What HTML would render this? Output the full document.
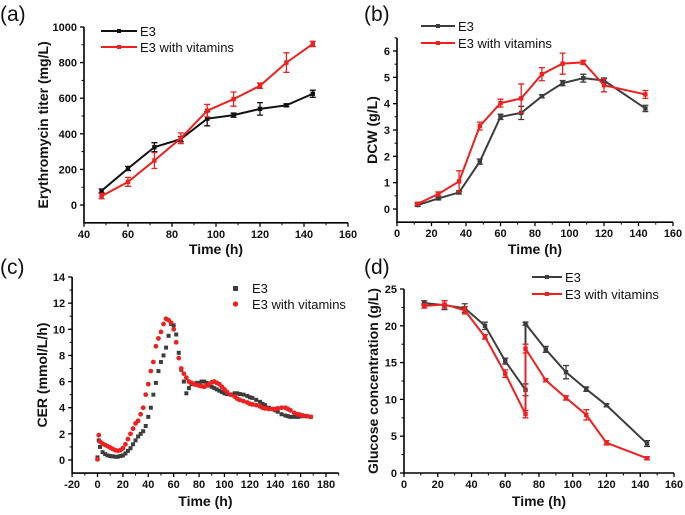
<!DOCTYPE html>
<html><head><meta charset="utf-8"><style>
body{margin:0;background:#fff}
svg{display:block;font-family:"Liberation Sans",Arial,sans-serif}
.tk{font-size:11px;font-weight:bold;fill:#111}
.at{font-size:14px;font-weight:bold;fill:#111}
.pl{font-size:21px;fill:#111}
.lg{font-size:13px;fill:#111}
</style></head><body>
<svg id="fig" width="685" height="515" viewBox="0 0 685 515" xmlns="http://www.w3.org/2000/svg"></svg>
<script>
// ---- data ----
const aX=[48,60,72,84,96,108,120,132,144];
const aE3=[80,205,325,370,485,505,540,560,625];
const aE3err=[10,12,25,15,40,12,35,8,20];
const aVit=[50,130,250,375,530,595,670,800,905];
const aVitErr=[15,25,45,30,35,40,15,55,15];
const bX=[12,24,36,48,60,72,84,96,108,120,144];
const bE3=[0.15,0.4,0.63,1.8,3.5,3.65,4.28,4.78,4.97,4.88,3.82];
const bE3err=[0.05,0.05,0.06,0.1,0.1,0.25,0.06,0.1,0.15,0.1,0.12];
const bVit=[0.2,0.57,1.05,3.15,4.02,4.2,5.12,5.52,5.57,4.7,4.35];
const bVitErr=[0.05,0.08,0.4,0.15,0.15,0.55,0.25,0.4,0.08,0.25,0.15];
const cE3x=[0,1,2,4,6,8,10,12,14,16,18,20,22,24,26,28,30,32,34,36,38,40,42,44,46,48,50,52,54,56,58,60,62,64,66,68,70,72,74,76,78,80,82,84,86,88,90,92,94,96,98,100,102,105,108,110,112,115,118,120,122,125,128,130,132,135,138,140,142,145,148,150,152,155,158,160,162,165,168];
const cE3y=[0.2,1.5,1.0,0.6,0.45,0.35,0.3,0.28,0.25,0.25,0.3,0.35,0.5,0.7,0.9,1.2,1.5,1.8,2.0,2.2,2.6,3.3,4.0,5.0,5.9,6.8,7.5,8.0,8.6,9.5,10.4,10.3,9.6,8.2,6.9,6.0,5.1,5.5,5.8,5.8,5.9,5.9,6.0,6.0,5.9,5.7,5.6,5.5,5.4,5.3,5.2,5.1,5.05,5.0,5.1,5.1,5.05,5.0,4.9,4.8,4.75,4.6,4.45,4.3,4.2,4.0,3.9,3.8,3.7,3.5,3.4,3.35,3.3,3.3,3.3,3.35,3.35,3.35,3.3];
const cVitX=[0,1,2,4,6,8,10,12,14,16,18,20,22,24,26,28,30,32,34,36,38,40,42,44,46,48,50,52,54,56,58,60,62,64,66,68,70,72,74,76,78,80,82,84,86,88,90,92,94,96,98,100,102,105,108,110,112,115,118,120,122,125,128,130,132,135,138,140,142,145,148,150,152,155,158,160,162,165,168];
const cVitY=[0.05,1.9,1.4,1.25,1.15,1.05,0.95,0.85,0.75,0.7,0.75,0.9,1.2,1.6,2.0,2.4,2.8,3.0,3.5,4.0,5.0,5.8,6.8,7.5,8.7,9.3,9.8,10.4,10.8,10.7,10.5,10.0,9.0,7.8,7.0,6.6,6.3,6.0,5.9,5.8,5.75,5.7,5.65,5.6,5.7,5.8,5.95,6.0,5.9,5.8,5.6,5.4,5.2,5.0,4.85,4.7,4.6,4.5,4.4,4.3,4.25,4.2,4.1,4.0,3.95,3.9,3.9,3.9,3.95,4.0,4.0,3.9,3.8,3.6,3.5,3.45,3.4,3.35,3.3];
const dE3x=[12,24,36,48,60,72,72,84,96,108,120,144];
const dE3=[23.1,22.8,22.4,20,15.2,11.3,20.3,16.8,13.7,11.4,9.2,4];
const dE3err=[0.3,0.6,0.6,0.5,0.4,0.8,0.2,0.4,0.9,0.3,0.2,0.4];
const dVitX=[12,24,36,48,60,72,72,84,96,108,120,144];
const dVit=[22.7,22.9,22.1,18.5,13.5,8,16.9,12.6,10.2,7.9,4.1,2];
const dVitErr=[0.3,0.5,0.5,0.3,0.5,0.5,0.6,0.2,0.3,0.7,0.3,0.2];
const aXticks=[40,60,80,100,120,140,160], aYticks=[0,200,400,600,800,1000];
const bXticks=[0,20,40,60,80,100,120,140,160], bYticks=[0,1,2,3,4,5,6];
const cXticks=[-20,0,20,40,60,80,100,120,140,160,180], cYticks=[0,2,4,6,8,10,12,14];
const dXticks=[0,20,40,60,80,100,120,140,160], dYticks=[0,5,10,15,20,25];

const NS="http://www.w3.org/2000/svg", svg=document.getElementById('fig');
const GRAY="#3d3d3d", RED="#ee2020";
function el(t,a,p){const e=document.createElementNS(NS,t);for(const k in a)e.setAttribute(k,a[k]);(p||svg).appendChild(e);return e;}
function txt(s,a,cls,p){const e=el('text',a,p);e.setAttribute('class',cls);e.textContent=s;return e;}

function panel(o){
  const g=el('g',{});
  
  
  const sx=v=>o.px0+(v-o.x0)*(o.px1-o.px0)/(o.x1-o.x0);
  const sy=v=>o.py0+(v-o.y0)*(o.py1-o.py0)/(o.y1-o.y0);
  const L=sx(o.xmin),R=sx(o.xmax),B=sy(o.ymin),T=sy(o.ymax);
  const ax=el('path',{d:`M${L},${T}V${B}H${R}`,fill:'none',stroke:'#000','stroke-width':1.6},g);
  
  
  const xstep=o.xt[1]-o.xt[0];
  o.xt.forEach((v,i)=>{const x=sx(v);el('line',{x1:x,x2:x,y1:B,y2:B+4,stroke:'#000','stroke-width':1.3},g);
    const xm=sx(v+xstep/2);if(xm<=R+0.5)el('line',{x1:xm,x2:xm,y1:B,y2:B+2.5,stroke:'#000','stroke-width':1},g);
    const t=txt(String(v),{x:x,y:B+15,'text-anchor':'middle'},'tk',g);
    
    });
  o.yt.forEach((v,i)=>{const y=sy(v);el('line',{x1:L-4,x2:L,y1:y,y2:y,stroke:'#000','stroke-width':1.3},g);
    const step=o.yt[1]-o.yt[0];const ym=sy(v+step/2);if(ym>=T-0.5)el('line',{x1:L-2.5,x2:L,y1:ym,y2:ym,stroke:'#000','stroke-width':1},g);
    const t=txt(String(v),{x:L-7,y:y+4,'text-anchor':'end'},'tk',g);
    
    });
  const xt=txt('Time (h)',{x:(L+R)/2+o.xtOff,y:o.xty,'text-anchor':'middle'},'at',g);
  
  
  const yy=(T+B)/2, ytx=o.ytx;
  const yt=txt(o.ytitle,{x:ytx,y:yy,'text-anchor':'middle',transform:`rotate(-90 ${ytx} ${yy})`},'at',g);
  
  
  const pl=txt(o.label,{x:o.lx,y:o.ly},'pl',g);
  
  
  return {g,sx,sy};
}
function lineSeries(P,xs,ys,es,col,name){
  const g=el('g',{},P.g);
  
  
  el('polyline',{points:xs.map((x,i)=>P.sx(x)+','+P.sy(ys[i])).join(' '),fill:'none',stroke:col,'stroke-width':2},g);
  xs.forEach((x,i)=>{const X=P.sx(x),y1=P.sy(ys[i]-es[i]),y2=P.sy(ys[i]+es[i]);
    el('path',{d:`M${X},${y1}V${y2}M${X-3},${y1}H${X+3}M${X-3},${y2}H${X+3}`,stroke:col,'stroke-width':1.3,fill:'none'},g);
    const m=el('rect',{x:X-2.2,y:P.sy(ys[i])-2.2,width:4.4,height:4.4,fill:col},g);
    
    });
}
function legendLine(P,x1,x2,y,col,label){
  const g=el('g',{},P.g);
  
  
  el('line',{x1:x1,x2:x2,y1:y,y2:y,stroke:col,'stroke-width':2},g);
  el('rect',{x:(x1+x2)/2-2,y:y-2,width:4,height:4,fill:col},g);
  txt(label,{x:x2+3,y:y+5},'lg',g);
}

// (a)
const A=panel({name:'panel-a-erythromycin',x0:40,x1:140,px0:84,px1:304,y0:0,y1:1000,py0:205,py1:27,xmin:40,xmax:160,ymin:-100,ymax:1000,
  xt:aXticks,yt:aYticks,ytitle:'Erythromycin titer (mg/L)',ytx:48,xty:254,xtOff:0,label:'(a)',lx:0,ly:21});
lineSeries(A,aX,aE3,aE3err,'#111','series-e3');
lineSeries(A,aX,aVit,aVitErr,RED,'series-e3-vitamins');
legendLine(A,101,137,31,'#111','E3');
legendLine(A,101,137,47,RED,'E3 with vitamins');
// (b)
const Bp=panel({name:'panel-b-dcw',x0:0,x1:160,px0:397,px1:673,y0:0,y1:6,py0:209,py1:51,xmin:0,xmax:160,ymin:-0.5,ymax:6.5,
  xt:bXticks,yt:bYticks,ytitle:'DCW (g/L)',ytx:377,xty:254,xtOff:0,label:'(b)',lx:364,ly:21});
lineSeries(Bp,bX,bE3,bE3err,GRAY,'series-e3');
lineSeries(Bp,bX,bVit,bVitErr,RED,'series-e3-vitamins');
legendLine(Bp,421,455,26,GRAY,'E3');
legendLine(Bp,421,455,43,RED,'E3 with vitamins');
// (c)
const C=panel({name:'panel-c-cer',x0:0,x1:180,px0:97.5,px1:326,y0:0,y1:14,py0:460,py1:277,xmin:-20,xmax:190,ymin:-1,ymax:14,
  xt:cXticks,yt:cYticks,ytitle:'CER (mmol/L/h)',ytx:47,xty:506,xtOff:0,label:'(c)',lx:0,ly:274});
(function(){
  const g1=el('g',{},C.g);
  
  
  cE3x.forEach((x,i)=>{const r=el('rect',{x:C.sx(x)-2,y:C.sy(cE3y[i])-2,width:4,height:4,fill:GRAY},g1);
    
    });
  const g2=el('g',{},C.g);
  
  
  cVitX.forEach((x,i)=>{const c=el('circle',{cx:C.sx(x),cy:C.sy(cVitY[i]),r:2.4,fill:RED},g2);
    
    });
  const l1=el('g',{},C.g);
  
  
  el('rect',{x:233,y:286,width:5,height:5,fill:GRAY},l1);txt('E3',{x:252,y:293},'lg',l1);
  const l2=el('g',{},C.g);
  
  
  el('circle',{cx:235.5,cy:304,r:2.6,fill:RED},l2);txt('E3 with vitamins',{x:252,y:309},'lg',l2);
})();
// (d)
const D=panel({name:'panel-d-glucose',x0:0,x1:160,px0:404,px1:674,y0:0,y1:25,py0:473,py1:289,xmin:0,xmax:160,ymin:0,ymax:25,
  xt:dXticks,yt:dYticks,ytitle:'Glucose concentration (g/L)',ytx:378,xty:506,xtOff:0,label:'(d)',lx:364,ly:274});
lineSeries(D,dE3x,dE3,dE3err,GRAY,'series-e3');
lineSeries(D,dVitX,dVit,dVitErr,RED,'series-e3-vitamins');
legendLine(D,532,562,277,GRAY,'E3');
legendLine(D,532,562,294,RED,'E3 with vitamins');
</script>
</body></html>
